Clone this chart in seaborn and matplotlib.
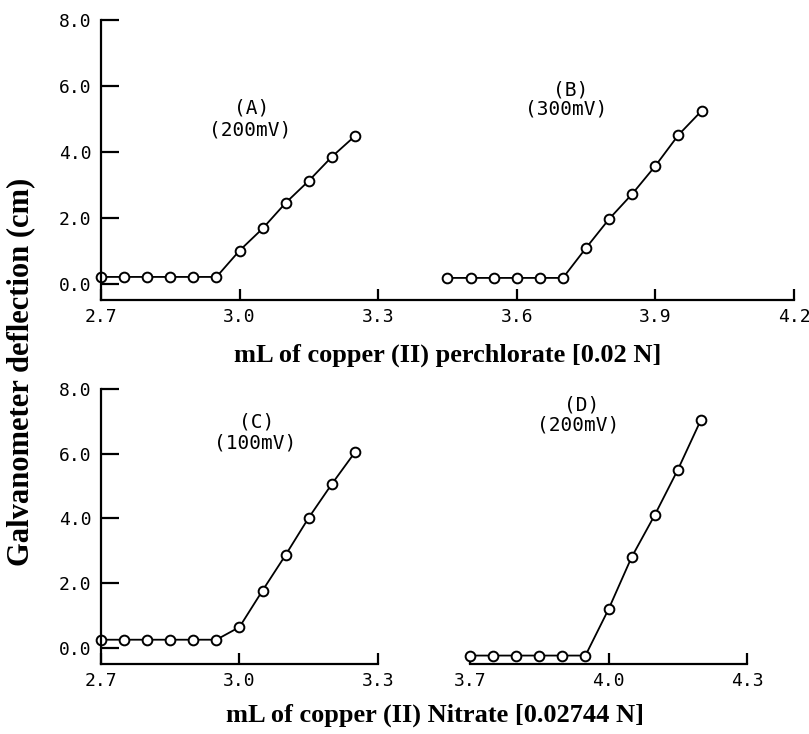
import numpy as np
import pandas as pd
import matplotlib
matplotlib.use("Agg")
import matplotlib.pyplot as plt
import seaborn as sns

# Perchlorate titrations (top panel)
a_x = [2.70, 2.75, 2.80, 2.85, 2.90, 2.95, 3.00, 3.05, 3.10, 3.15, 3.20, 3.25]
a_y = [0.20, 0.20, 0.20, 0.20, 0.20, 0.20, 1.00, 1.67, 2.45, 3.12, 3.85, 4.48]
b_x = [3.45, 3.50, 3.55, 3.60, 3.65, 3.70, 3.75, 3.80, 3.85, 3.90, 3.95, 4.00]
b_y = [0.17, 0.17, 0.17, 0.17, 0.17, 0.17, 1.08, 1.96, 2.72, 3.57, 4.51, 5.24]

# Nitrate titrations (bottom panels)
c_x = [2.70, 2.75, 2.80, 2.85, 2.90, 2.95, 3.00, 3.05, 3.10, 3.15, 3.20, 3.25]
c_y = [0.25, 0.25, 0.25, 0.25, 0.25, 0.25, 0.64, 1.77, 2.87, 4.02, 5.06, 6.04]
d_x = [3.70, 3.75, 3.80, 3.85, 3.90, 3.95, 4.00, 4.05, 4.10, 4.15, 4.20]
d_y = [-0.24, -0.24, -0.24, -0.24, -0.24, -0.24, 1.19, 2.80, 4.10, 5.50, 7.04]

yticks = [0.0, 2.0, 4.0, 6.0, 8.0]
top_xticks = [2.7, 3.0, 3.3, 3.6, 3.9, 4.2]
left_xticks = [2.7, 3.0, 3.3]
right_xticks = [3.7, 4.0, 4.3]

sns.set_style("ticks")
plt.rcParams["font.family"] = ["DejaVu Sans Mono"]
plt.rcParams["text.color"] = "black"
plt.rcParams["axes.edgecolor"] = "black"
plt.rcParams["xtick.color"] = "black"
plt.rcParams["ytick.color"] = "black"

fig = plt.figure(figsize=(8.09, 7.34), dpi=100)
ax_top = fig.add_axes([0.1248, 0.5913, 0.8566, 0.3815])
ax_bl = fig.add_axes([0.1248, 0.0954, 0.3424, 0.3747])
ax_br = fig.add_axes([0.5810, 0.0954, 0.3424, 0.3747], sharey=ax_bl)

line_kw = dict(color="black", linewidth=1.3, marker="o", markersize=7,
               markerfacecolor="white", markeredgecolor="black",
               markeredgewidth=1.4, estimator=None, sort=False, clip_on=False)


def curve(ax, xs, ys):
    df = pd.DataFrame({"x": xs, "y": ys})
    sns.lineplot(data=df, x="x", y="y", ax=ax, **line_kw)


curve(ax_top, a_x, a_y)
curve(ax_top, b_x, b_y)
curve(ax_bl, c_x, c_y)
curve(ax_br, d_x, d_y)

ax_top.set_xlim(2.7, 4.2)
ax_bl.set_xlim(2.7, 3.3)
ax_br.set_xlim(3.7, 4.3)

for ax in (ax_top, ax_bl, ax_br):
    ax.set_ylim(-0.5, 8.0)
    ax.set_xlabel("")
    ax.set_ylabel("")
    for s in ("top", "right"):
        ax.spines[s].set_visible(False)
    for s in ("left", "bottom"):
        ax.spines[s].set_linewidth(1.6)
    ax.tick_params(axis="x", direction="in", length=8, width=1.6,
                   labelsize=13, pad=6)
    ax.tick_params(axis="y", direction="in", length=13, width=1.6,
                   labelsize=13, pad=7)

ax_top.set_xticks(top_xticks)
ax_bl.set_xticks(left_xticks)
ax_br.set_xticks(right_xticks)
for ax in (ax_top, ax_bl):
    ax.set_yticks(yticks)
    ax.set_yticklabels([f"{v:.1f}" for v in yticks])
for ax, ticks in ((ax_top, top_xticks), (ax_bl, left_xticks), (ax_br, right_xticks)):
    ax.set_xticklabels([f"{v:.1f}" for v in ticks])

ax_br.spines["left"].set_visible(False)
ax_br.tick_params(axis="y", left=False, labelleft=False)

note = dict(ha="center", va="center", fontsize=14)
ax_top.text(3.026, 5.33, "(A)", **note)
ax_top.text(3.022, 4.67, "(200mV)", **note)
ax_top.text(3.717, 5.88, "(B)", **note)
ax_top.text(3.706, 5.30, "(300mV)", **note)
ax_bl.text(3.038, 6.98, "(C)", **note)
ax_bl.text(3.035, 6.34, "(100mV)", **note)
ax_br.text(3.942, 7.50, "(D)", **note)
ax_br.text(3.935, 6.90, "(200mV)", **note)

lab = dict(family="Liberation Serif", fontweight="bold", fontsize=19)
fig.text(0.553, 0.516, "mL of copper (II) perchlorate [0.02 N]",
         ha="center", va="center", **lab)
fig.text(0.538, 0.026, "mL of copper (II) Nitrate [0.02744 N]",
         ha="center", va="center", **lab)
fig.text(0.026, 0.493, "Galvanometer deflection (cm)", rotation=90,
         ha="center", va="center", family="Liberation Serif",
         fontweight="bold", fontsize=22)

fig.savefig("out.png", dpi=100)
